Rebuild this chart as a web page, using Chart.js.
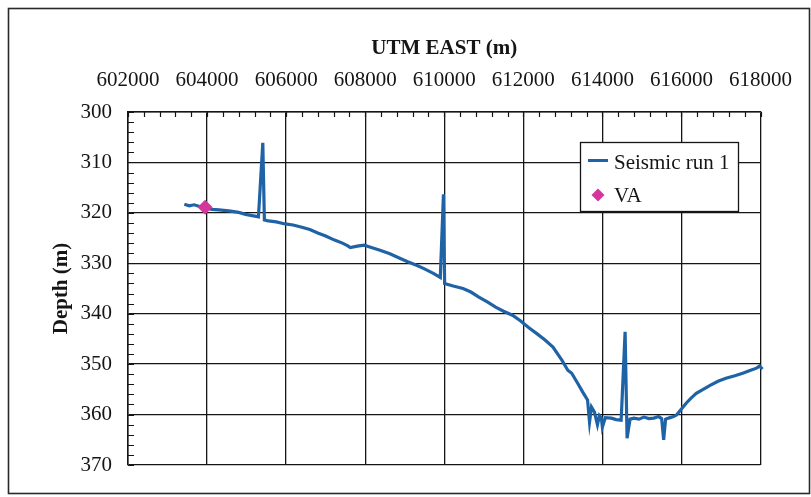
<!DOCTYPE html>
<html>
<head>
<meta charset="utf-8">
<script src="https://cdn.jsdelivr.net/npm/chart.js@4.4.1/dist/chart.umd.min.js"></script>
<style>
  html, body { margin: 0; padding: 0; background: #fff; }
  #wrap { width: 811px; height: 497px; }
</style>
</head>
<body>
<div id="wrap"><canvas id="depthChart" width="811" height="497"></canvas></div>
<script>
// --- values ---
const seismicEast = [
  603425, 603550, 603675, 603875, 604125, 604300, 604550, 604800, 604975, 605175,
  605300, 605410, 605450, 605550, 605750, 605975, 606175, 606375, 606600, 606800,
  607000, 607225, 607425, 607550, 607625, 607800, 607975, 608175, 608375, 608625,
  608875, 609075, 609300, 609500, 609725, 609900, 609980, 610010, 610225, 610475,
  610675, 610875, 611100, 611300, 611500, 611725, 611925, 612125, 612350, 612550,
  612750, 612975, 613125, 613225, 613375, 613500, 613625, 613675, 613725, 613800,
  613875, 613925, 613975, 614000, 614075, 614225, 614350, 614475, 614575, 614625,
  614700, 614800, 614925, 615050, 615175, 615300, 615425, 615500, 615550, 615600,
  615675, 615800, 615875, 616000, 616125, 616250, 616375, 616550, 616725, 616925,
  617125, 617350, 617550, 617750, 617900, 617975, 618050, 618100
];
const seismicDepth = [
  318.3, 318.6, 318.4, 318.9, 319.3, 319.4, 319.6, 319.9, 320.3, 320.6,
  320.8, 306.1, 321.4, 321.6, 321.8, 322.2, 322.4, 322.8, 323.3, 324.0,
  324.6, 325.4, 326.0, 326.5, 326.9, 326.6, 326.4, 326.9, 327.4, 328.1,
  329.0, 329.7, 330.4, 331.1, 332.0, 332.8, 316.3, 334.0, 334.5, 335.0,
  335.7, 336.7, 337.7, 338.7, 339.5, 340.3, 341.4, 342.7, 344.0, 345.2,
  346.6, 349.2, 351.2, 351.8, 353.8, 355.5, 357.1, 361.5, 358.5, 359.5,
  362.0, 360.2, 360.7, 362.5, 360.6, 360.7, 361.0, 361.1, 343.6, 364.7,
  360.9, 360.7, 360.9, 360.5, 360.8, 360.7, 360.4, 360.8, 365.0, 360.9,
  360.7, 360.4, 360.1, 358.9, 357.7, 356.7, 355.8, 355.0, 354.2, 353.4,
  352.8, 352.3, 351.8, 351.2, 350.8, 350.4, 351.0, 350.6
];
const vaEast = [603950];
const vaDepth = [318.9];

const eastTicks = [602000, 604000, 606000, 608000, 610000, 612000, 614000, 616000, 618000];
const depthTicks = [300, 310, 320, 330, 340, 350, 360, 370];
const eastMinorStep = 400;
const depthMinorStep = 2;

const serif = "'Liberation Serif', 'Times New Roman', serif";
const ink = '#151515';

const toPoints = (xs, ys) => xs.map((x, i) => ({ x: x, y: ys[i] }));

// small inward ticks on the top and left edges
const minorTicks = {
    id: 'minorTicks',
    afterDatasetsDraw(chart) {
        const { ctx, chartArea: a, scales: { x, y } } = chart;
        ctx.save();
        ctx.strokeStyle = ink;
        ctx.lineWidth = 1.2;
        ctx.beginPath();
        for (let v = eastTicks[0]; v <= eastTicks[eastTicks.length - 1]; v += eastMinorStep) {
            const px = Math.round(x.getPixelForValue(v)) + 0.5;
            ctx.moveTo(px, a.top);
            ctx.lineTo(px, a.top + 5);
        }
        for (let v = depthTicks[0]; v <= depthTicks[depthTicks.length - 1]; v += depthMinorStep) {
            const py = Math.round(y.getPixelForValue(v)) + 0.5;
            ctx.moveTo(a.left, py);
            ctx.lineTo(a.left + 6, py);
        }
        ctx.stroke();
        ctx.restore();
    }
};

// boxed legend inside the plot, plus the outer frame
const boxLegend = {
    id: 'boxLegend',
    afterDraw(chart) {
        const ctx = chart.ctx;
        const a = chart.chartArea;
        const ds = chart.data.datasets;
        const bx = a.left + 452, by = a.top + 30, bw = 158, bh = 69;
        ctx.save();
        ctx.fillStyle = '#fff';
        ctx.fillRect(bx, by, bw, bh);
        ctx.strokeStyle = ink;
        ctx.lineWidth = 1.3;
        ctx.strokeRect(bx + 0.5, by + 0.5, bw, bh);

        ctx.strokeStyle = ds[0].borderColor;
        ctx.lineWidth = 3;
        ctx.beginPath();
        ctx.moveTo(bx + 8, by + 18.5);
        ctx.lineTo(bx + 28, by + 18.5);
        ctx.stroke();

        ctx.fillStyle = ds[1].backgroundColor;
        ctx.beginPath();
        const cx = bx + 18, cy = by + 53;
        ctx.moveTo(cx, cy - 6.5); ctx.lineTo(cx + 6.5, cy); ctx.lineTo(cx, cy + 6.5); ctx.lineTo(cx - 6.5, cy);
        ctx.closePath();
        ctx.fill();

        ctx.fillStyle = ink;
        ctx.font = '21px ' + serif;
        ctx.textBaseline = 'alphabetic';
        ctx.fillText(ds[0].label, bx + 34, by + 27);
        ctx.fillText(ds[1].label, bx + 34, by + 60);

        ctx.strokeStyle = '#2a2a2a';
        ctx.lineWidth = 1.6;
        ctx.strokeRect(8.5, 8.5, 801, 485);
        ctx.restore();
    }
};

new Chart(document.getElementById('depthChart'), {
    type: 'scatter',
    data: {
        datasets: [
            {
                label: 'Seismic run 1',
                data: toPoints(seismicEast, seismicDepth),
                showLine: true,
                borderColor: '#1f63a6',
                backgroundColor: '#1f63a6',
                borderWidth: 3.2,
                pointRadius: 0,
                tension: 0,
                clip: 6,
                order: 1
            },
            {
                label: 'VA',
                data: toPoints(vaEast, vaDepth),
                pointStyle: 'rectRot',
                pointRadius: 7,
                backgroundColor: '#d4369e',
                borderColor: '#d4369e',
                order: 0
            }
        ]
    },
    options: {
        responsive: false,
        animation: false,
        events: [],
        layout: { padding: { left: 0, top: 0, right: 43, bottom: 32 } },
        scales: {
            x: {
                type: 'linear',
                position: 'top',
                min: eastTicks[0],
                max: eastTicks[eastTicks.length - 1],
                afterBuildTicks: s => { s.ticks = eastTicks.map(v => ({ value: v })); },
                afterFit: s => { s.height = 112; },
                grid: { color: ink, lineWidth: 1.3, drawTicks: false },
                border: { display: true, color: ink, width: 1.5 },
                ticks: {
                    autoSkip: false,
                    maxRotation: 0,
                    padding: 19,
                    color: ink,
                    font: { family: serif, size: 21 },
                    callback: v => String(v)
                },
                title: {
                    display: true,
                    text: 'UTM EAST (m)',
                    color: ink,
                    font: { family: serif, size: 21, weight: 'bold' },
                    padding: { top: 36, bottom: 0 }
                }
            },
            y: {
                type: 'linear',
                reverse: true,
                min: depthTicks[0],
                max: depthTicks[depthTicks.length - 1],
                afterBuildTicks: s => { s.ticks = depthTicks.map(v => ({ value: v })); },
                afterFit: s => { s.width = 128; },
                grid: { color: ink, lineWidth: 1.3, drawTicks: false },
                border: { display: true, color: ink, width: 1.5 },
                ticks: {
                    padding: 16,
                    color: ink,
                    font: { family: serif, size: 21 },
                    callback: v => String(v)
                },
                title: {
                    display: true,
                    text: 'Depth (m)',
                    color: ink,
                    font: { family: serif, size: 21, weight: 'bold' },
                    padding: { top: 49, bottom: 0 }
                }
            }
        },
        plugins: {
            legend: { display: false },
            tooltip: { enabled: false }
        }
    },
    plugins: [minorTicks, boxLegend]
});
</script>
</body>
</html>
